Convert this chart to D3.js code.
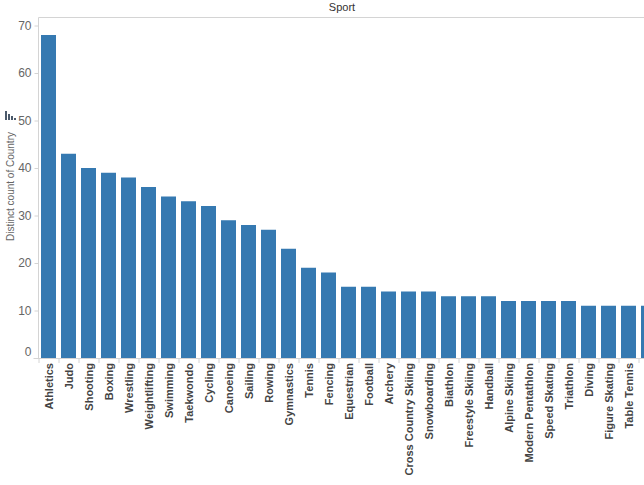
<!DOCTYPE html>
<html>
<head>
<meta charset="utf-8">
<script src="https://cdn.jsdelivr.net/npm/d3@7"></script>
<style>
  body { margin: 0; background: #fff; }
  text { font-family: "Liberation Sans", Arial, sans-serif; }
</style>
</head>
<body>
<svg id="chart" width="644" height="485"></svg>
<script>
// data
const sports = ["Athletics", "Judo", "Shooting", "Boxing", "Wrestling", "Weightlifting", "Swimming",
  "Taekwondo", "Cycling", "Canoeing", "Sailing", "Rowing", "Gymnastics", "Tennis", "Fencing",
  "Equestrian", "Football", "Archery", "Cross Country Skiing", "Snowboarding", "Biathlon",
  "Freestyle Skiing", "Handball", "Alpine Skiing", "Modern Pentathlon", "Speed Skating",
  "Triathlon", "Diving", "Figure Skating", "Table Tennis", "Badminton"];
const countries = [68, 43, 40, 39, 38, 36, 34, 33, 32, 29, 28, 27, 23, 19, 18,
  15, 15, 14, 14, 14, 13, 13, 13, 12, 12, 12, 12, 11, 11, 11, 11];
const yTicks = [0, 10, 20, 30, 40, 50, 60, 70];

const svg = d3.select("#chart");
const width = 644;
const plotLeft = 38.5, plotTop = 17.5, plotBottom = 358;

const x = d3.scaleBand()
  .domain(sports)
  .range([plotLeft, plotLeft + 20 * sports.length])
  .paddingInner(0.25)
  .paddingOuter(0.125);

const y = d3.scaleLinear()
  .domain([0, 70])
  .range([plotBottom, plotBottom - 70 * 4.75]);

// header title
svg.append("text")
  .attr("x", 342).attr("y", 11)
  .attr("text-anchor", "middle")
  .style("font-size", "11px")
  .attr("fill", "#333")
  .text("Sport");

// frame lines
svg.append("line")
  .attr("x1", plotLeft).attr("x2", width).attr("y1", plotTop).attr("y2", plotTop)
  .attr("stroke", "#d4d4d4");
svg.append("line")
  .attr("x1", plotLeft).attr("x2", plotLeft).attr("y1", plotTop).attr("y2", plotBottom)
  .attr("stroke", "#d4d4d4");

// bars
svg.selectAll(".bar")
  .data(sports)
  .enter()
  .append("rect")
  .attr("x", d => x(d))
  .attr("y", (d, i) => y(countries[i]))
  .attr("width", x.bandwidth())
  .attr("height", (d, i) => plotBottom - y(countries[i]))
  .attr("fill", "#3579b1");

// y axis
const yAxis = svg.append("g")
  .attr("transform", "translate(" + plotLeft + ",0)")
  .call(d3.axisLeft(y).tickValues(yTicks).tickSize(4).tickPadding(3));
yAxis.select(".domain").remove();
yAxis.selectAll(".tick line").attr("stroke", "#d4d4d4");
yAxis.selectAll(".tick text")
  .attr("fill", "#666")
  .style("font-size", "12px")
  .style("font-family", "'Liberation Sans', Arial, sans-serif")
  .attr("dy", d => d === 0 ? "-0.2em" : "0.32em");

// y title
svg.append("text")
  .attr("transform", "translate(14,186.5) rotate(-90)")
  .attr("text-anchor", "middle")
  .style("font-size", "10px")
  .attr("fill", "#666")
  .text("Distinct count of Country");

// small bar icon
const icon = svg.append("g").attr("fill", "#4b5a6b");
icon.append("rect").attr("x", 5).attr("y", 111).attr("width", 2).attr("height", 9);
icon.append("rect").attr("x", 8).attr("y", 114).attr("width", 2).attr("height", 6);
icon.append("rect").attr("x", 11).attr("y", 116).attr("width", 2).attr("height", 4);
icon.append("rect").attr("x", 14).attr("y", 118).attr("width", 2).attr("height", 2);

// x axis
svg.append("line")
  .attr("x1", plotLeft - 5).attr("x2", width).attr("y1", plotBottom + 0.5).attr("y2", plotBottom + 0.5)
  .attr("stroke", "#d4d4d4");
svg.selectAll(".sep")
  .data(sports)
  .enter()
  .append("line")
  .attr("x1", d => x(d) - x.step() * x.paddingInner() / 2 + 0.5)
  .attr("x2", d => x(d) - x.step() * x.paddingInner() / 2 + 0.5)
  .attr("y1", plotBottom).attr("y2", plotBottom + 5)
  .attr("stroke", "#d4d4d4");

// only the labels that fit inside the view are shown (the last bar is cut off)
svg.selectAll(".xlabel")
  .data(sports.filter(d => x(d) + x.bandwidth() <= width))
  .enter()
  .append("text")
  .attr("transform", d => "translate(" + (x(d) + x.bandwidth() / 2 + 4) + "," + (plotBottom + 5) + ") rotate(-90)")
  .attr("text-anchor", "end")
  .style("font-size", "11px")
  .style("font-weight", "bold")
  .attr("fill", "#444")
  .text(d => d);
</script>
</body>
</html>
